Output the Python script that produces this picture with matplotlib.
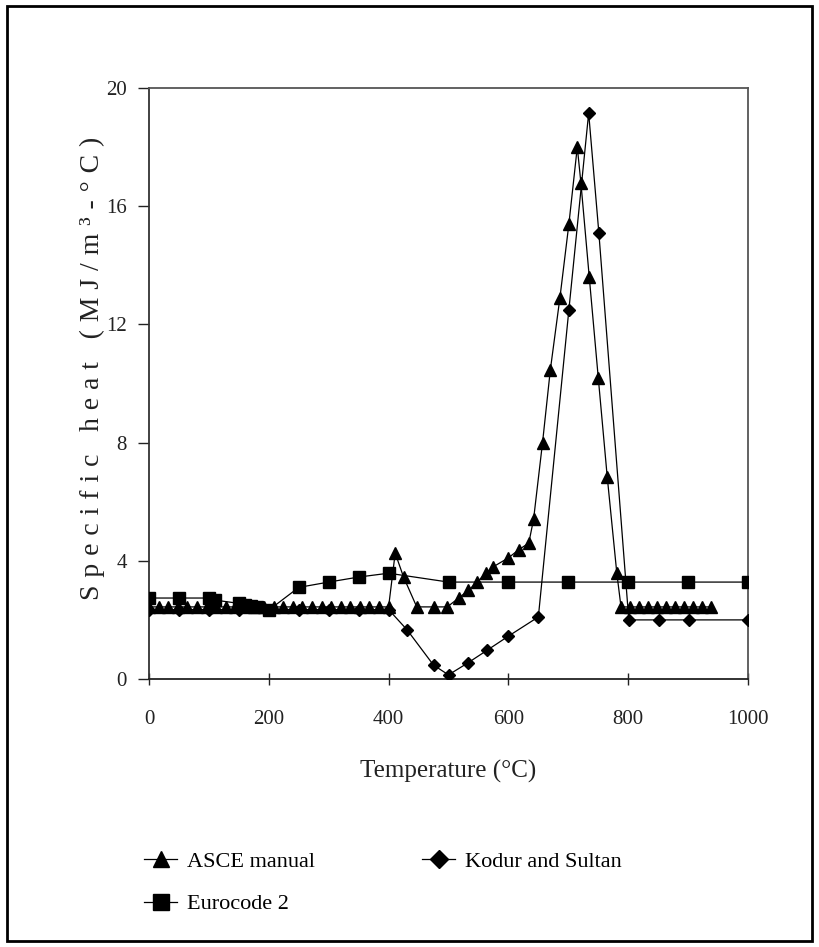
import matplotlib
matplotlib.use("Agg")
import matplotlib.pyplot as plt
from matplotlib.patches import Rectangle

plt.rcParams['font.family'] = ['Liberation Serif', 'DejaVu Serif']

# ---- data ----
asce_T = [0, 16, 32, 48, 64, 80, 96, 112, 128, 144, 160, 176, 192, 208, 224, 240,
          256, 272, 288, 304, 320, 336, 352, 368, 384, 400,
          411, 425, 447, 475, 498, 517, 533, 548, 562, 575, 600, 617, 634, 642, 657,
          670, 686, 701, 715, 721, 735, 750, 765, 781,
          788, 803, 818, 833, 848, 863, 878, 893, 908, 923, 938]
asce_c = [2.44] * 26 + [4.26, 3.45, 2.44, 2.44, 2.44, 2.74, 3.0, 3.28, 3.58, 3.8, 4.1, 4.37, 4.6, 5.4, 8.0,
                        10.46, 12.9, 15.4, 18.0, 16.8, 13.6, 10.2, 6.84, 3.58] + [2.44] * 11

euro_T = [0, 50, 100, 110, 150, 160, 170, 180, 200, 250, 300, 350, 400, 500, 600, 700, 800, 900, 1000]
euro_c = [2.74, 2.74, 2.74, 2.67, 2.56, 2.52, 2.48, 2.44, 2.33, 3.1, 3.28, 3.45, 3.58, 3.28, 3.28, 3.28, 3.28, 3.28, 3.28]

kodur_T = [0, 50, 100, 150, 200, 250, 300, 350, 400, 431, 475, 500, 532, 565, 600, 650, 701, 734, 751, 801, 851, 901, 1000]
kodur_c = [2.35, 2.35, 2.35, 2.35, 2.35, 2.35, 2.35, 2.35, 2.35, 1.66, 0.47, 0.14, 0.54, 0.98, 1.45, 2.1,
           12.5, 19.15, 15.1, 2.0, 2.0, 2.0, 2.0]

x_ticks = [0, 200, 400, 600, 800, 1000]
y_ticks = [0, 4, 8, 12, 16, 20]

W, H = 819, 947
fig = plt.figure(figsize=(W / 100, H / 100), dpi=100)
ax = fig.add_axes([149 / W, 1 - 679 / H, (748 - 149) / W, (679 - 88) / H])

lw = 0.9
la, = ax.plot(asce_T, asce_c, color='black', lw=lw, marker='^', ms=9, mec='black', mfc='black', zorder=3)
le, = ax.plot(euro_T, euro_c, color='black', lw=lw, marker='s', ms=9, mec='black', mfc='black', zorder=3)
lk, = ax.plot(kodur_T, kodur_c, color='black', lw=lw, marker='D', ms=6.5, mec='black', mfc='black', zorder=3)

ax.set_xlim(0, 1000)
ax.set_ylim(0, 20)
ax.set_xticks(x_ticks)
ax.set_yticks(y_ticks)
ax.tick_params(axis='y', direction='out', length=8, width=1, labelsize=15, pad=8, colors='#222222')
ax.tick_params(axis='x', direction='inout', length=9, width=1, labelsize=15, pad=18, colors='#222222')
for s in ax.spines.values():
    s.set_color('#555555')
    s.set_linewidth(1.3)
ax.spines['bottom'].set_color('#222222')
ax.spines['left'].set_color('#333333')

ax.set_xlabel('Temperature (°C)', fontsize=18, labelpad=22, color='#222222')
ylab = '\u2009\u200a'.join('Specific heat (MJ/m³-°C)')
ax.set_ylabel(ylab, fontsize=20, color='#222222', va='center')
ax.yaxis.set_label_coords(-0.095, 0.526)

leg = fig.legend([la, le, lk], ['ASCE manual', 'Eurocode 2', 'Kodur and Sultan'],
                 ncol=2, frameon=False, loc='upper left', bbox_to_anchor=(124 / W, 1 - 831 / H),
                 prop={'size': 16}, handlelength=1.5, handletextpad=0.45, columnspacing=4.8,
                 labelspacing=1.0, markerscale=1.35)

fig.add_artist(Rectangle((7 / W, 1 - 941 / H), (812 - 7) / W, (941 - 6) / H,
                         transform=fig.transFigure, fill=False, ec='black', lw=2))

fig.savefig('out.png', dpi=100)
